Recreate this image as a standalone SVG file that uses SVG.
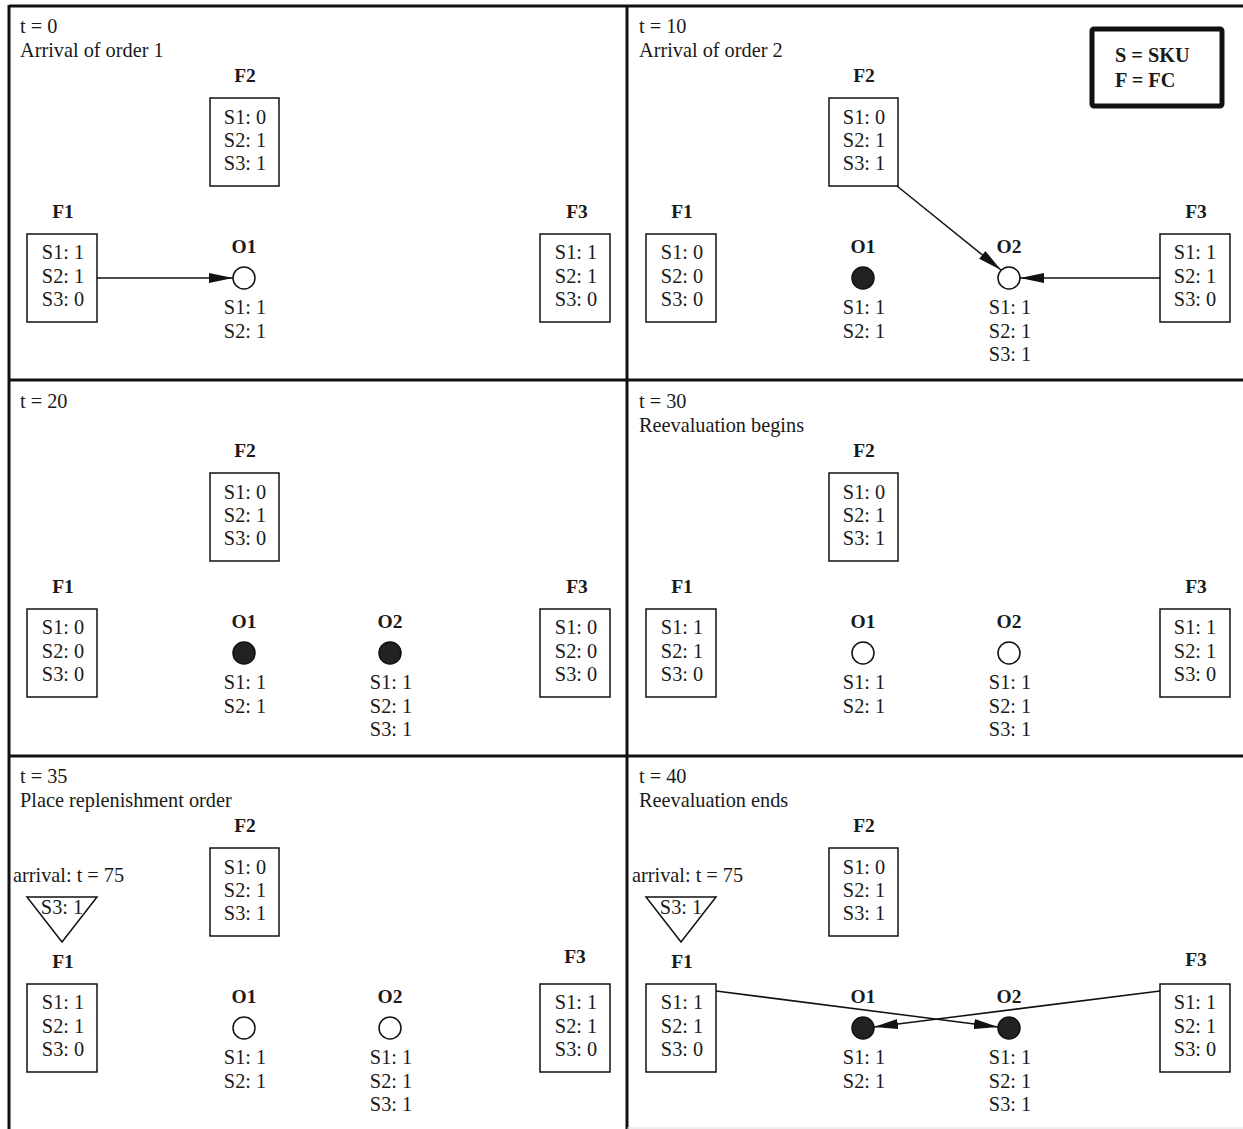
<svg xmlns="http://www.w3.org/2000/svg" width="1243" height="1129" viewBox="0 0 1243 1129">
<style>
text{font-family:"Liberation Serif","Times New Roman",serif;font-size:20.3px;fill:#1a1a1a}
.b{font-weight:bold;text-anchor:middle;font-size:19.5px}
.c{text-anchor:middle}
.box{fill:#fff;stroke:#111;stroke-width:1.5}
.open{fill:#fff;stroke:#111;stroke-width:1.5}
.full{fill:#222;stroke:#111;stroke-width:1.5}
.edge{stroke:#111;stroke-width:1.5;fill:none;marker-end:url(#ah)}
.frame{stroke:#111;stroke-width:3;fill:none}
</style>
<defs>
<marker id="ah" viewBox="0 0 24 10" refX="24" refY="5" markerWidth="24" markerHeight="10" markerUnits="userSpaceOnUse" orient="auto">
<path d="M0,0 L24,5 L0,10 Z" fill="#111"/>
</marker>
</defs>
<rect width="1243" height="1129" fill="#fff"/>
<g id="frame">
<line class="frame" x1="9" y1="6" x2="1243" y2="6"/>
<line class="frame" x1="9" y1="5" x2="9" y2="1129"/>
<line class="frame" x1="627" y1="5" x2="627" y2="1129"/>
<line class="frame" x1="9" y1="380" x2="1243" y2="380"/>
<line class="frame" x1="9" y1="756" x2="1243" y2="756"/>
<line x1="627" y1="1128" x2="1243" y2="1128" stroke="#ddd" stroke-width="1"/>
</g>
<g id="legend">
<rect x="1092" y="29" width="130" height="77" fill="#fff" stroke="#111" stroke-width="5" rx="2"/>
<text x="1115" y="62" font-weight="bold" font-size="21.5">S = SKU</text>
<text x="1115" y="87" font-weight="bold" font-size="21.5">F = FC</text>
</g>
<g id="connectors">
<line class="edge" x1="97" y1="278" x2="233" y2="278"/>
<line class="edge" x1="897" y1="186" x2="1001" y2="270"/>
<line class="edge" x1="1160" y1="278" x2="1020" y2="278"/>
<line class="edge" x1="716" y1="991" x2="998" y2="1027"/>
<line class="edge" x1="1160" y1="991" x2="874" y2="1027"/>
</g>
<!-- Panel t=0 -->
<g id="p0">
<text x="20" y="33">t = 0</text>
<text x="20" y="57">Arrival of order 1</text>
<g id="p0-F2"><text class="b" x="245" y="82">F2</text><rect class="box" x="210" y="98" width="69" height="88"/><text class="c" x="245" y="124">S1: 0</text><text class="c" x="245" y="147">S2: 1</text><text class="c" x="245" y="170">S3: 1</text></g>
<g id="p0-F1"><text class="b" x="63" y="218">F1</text><rect class="box" x="27" y="234" width="70" height="88"/><text class="c" x="63" y="259">S1: 1</text><text class="c" x="63" y="283">S2: 1</text><text class="c" x="63" y="306">S3: 0</text></g>
<g id="p0-F3"><text class="b" x="577" y="218">F3</text><rect class="box" x="540" y="234" width="70" height="88"/><text class="c" x="576" y="259">S1: 1</text><text class="c" x="576" y="283">S2: 1</text><text class="c" x="576" y="306">S3: 0</text></g>
<g id="p0-O1"><text class="b" x="244" y="253">O1</text><circle class="open" cx="244" cy="278" r="11"/><text class="c" x="245" y="314">S1: 1</text><text class="c" x="245" y="338">S2: 1</text></g>
</g>
<!-- Panel t=10 -->
<g id="p1" transform="translate(619,0)">
<text x="20" y="33">t = 10</text>
<text x="20" y="57">Arrival of order 2</text>
<g id="p1-F2"><text class="b" x="245" y="82">F2</text><rect class="box" x="210" y="98" width="69" height="88"/><text class="c" x="245" y="124">S1: 0</text><text class="c" x="245" y="147">S2: 1</text><text class="c" x="245" y="170">S3: 1</text></g>
<g id="p1-F1"><text class="b" x="63" y="218">F1</text><rect class="box" x="27" y="234" width="70" height="88"/><text class="c" x="63" y="259">S1: 0</text><text class="c" x="63" y="283">S2: 0</text><text class="c" x="63" y="306">S3: 0</text></g>
<g id="p1-F3"><text class="b" x="577" y="218">F3</text><rect class="box" x="541" y="234" width="70" height="88"/><text class="c" x="576" y="259">S1: 1</text><text class="c" x="576" y="283">S2: 1</text><text class="c" x="576" y="306">S3: 0</text></g>
<g id="p1-O1"><text class="b" x="244" y="253">O1</text><circle class="full" cx="244" cy="278" r="11"/><text class="c" x="245" y="314">S1: 1</text><text class="c" x="245" y="338">S2: 1</text></g>
<g id="p1-O2"><text class="b" x="390" y="253">O2</text><circle class="open" cx="390" cy="278" r="11"/><text class="c" x="391" y="314">S1: 1</text><text class="c" x="391" y="338">S2: 1</text><text class="c" x="391" y="361">S3: 1</text></g>
</g>
<!-- Panel t=20 -->
<g id="p2" transform="translate(0,375)">
<text x="20" y="33">t = 20</text>
<g id="p2-F2"><text class="b" x="245" y="82">F2</text><rect class="box" x="210" y="98" width="69" height="88"/><text class="c" x="245" y="124">S1: 0</text><text class="c" x="245" y="147">S2: 1</text><text class="c" x="245" y="170">S3: 0</text></g>
<g id="p2-F1"><text class="b" x="63" y="218">F1</text><rect class="box" x="27" y="234" width="70" height="88"/><text class="c" x="63" y="259">S1: 0</text><text class="c" x="63" y="283">S2: 0</text><text class="c" x="63" y="306">S3: 0</text></g>
<g id="p2-F3"><text class="b" x="577" y="218">F3</text><rect class="box" x="540" y="234" width="70" height="88"/><text class="c" x="576" y="259">S1: 0</text><text class="c" x="576" y="283">S2: 0</text><text class="c" x="576" y="306">S3: 0</text></g>
<g id="p2-O1"><text class="b" x="244" y="253">O1</text><circle class="full" cx="244" cy="278" r="11"/><text class="c" x="245" y="314">S1: 1</text><text class="c" x="245" y="338">S2: 1</text></g>
<g id="p2-O2"><text class="b" x="390" y="253">O2</text><circle class="full" cx="390" cy="278" r="11"/><text class="c" x="391" y="314">S1: 1</text><text class="c" x="391" y="338">S2: 1</text><text class="c" x="391" y="361">S3: 1</text></g>
</g>
<!-- Panel t=30 -->
<g id="p3" transform="translate(619,375)">
<text x="20" y="33">t = 30</text>
<text x="20" y="57">Reevaluation begins</text>
<g id="p3-F2"><text class="b" x="245" y="82">F2</text><rect class="box" x="210" y="98" width="69" height="88"/><text class="c" x="245" y="124">S1: 0</text><text class="c" x="245" y="147">S2: 1</text><text class="c" x="245" y="170">S3: 1</text></g>
<g id="p3-F1"><text class="b" x="63" y="218">F1</text><rect class="box" x="27" y="234" width="70" height="88"/><text class="c" x="63" y="259">S1: 1</text><text class="c" x="63" y="283">S2: 1</text><text class="c" x="63" y="306">S3: 0</text></g>
<g id="p3-F3"><text class="b" x="577" y="218">F3</text><rect class="box" x="541" y="234" width="70" height="88"/><text class="c" x="576" y="259">S1: 1</text><text class="c" x="576" y="283">S2: 1</text><text class="c" x="576" y="306">S3: 0</text></g>
<g id="p3-O1"><text class="b" x="244" y="253">O1</text><circle class="open" cx="244" cy="278" r="11"/><text class="c" x="245" y="314">S1: 1</text><text class="c" x="245" y="338">S2: 1</text></g>
<g id="p3-O2"><text class="b" x="390" y="253">O2</text><circle class="open" cx="390" cy="278" r="11"/><text class="c" x="391" y="314">S1: 1</text><text class="c" x="391" y="338">S2: 1</text><text class="c" x="391" y="361">S3: 1</text></g>
</g>
<!-- Panel t=35 -->
<g id="p4" transform="translate(0,750)">
<text x="20" y="33">t = 35</text>
<text x="20" y="57">Place replenishment order</text>
<g id="p4-repl"><text x="13" y="132">arrival: t = 75</text><polygon points="27,147 97,147 62,192" fill="#fff" stroke="#111" stroke-width="1.5"/><text class="c" x="62" y="164">S3: 1</text></g>
<g id="p4-F2"><text class="b" x="245" y="82">F2</text><rect class="box" x="210" y="98" width="69" height="88"/><text class="c" x="245" y="124">S1: 0</text><text class="c" x="245" y="147">S2: 1</text><text class="c" x="245" y="170">S3: 1</text></g>
<g id="p4-F1"><text class="b" x="63" y="218">F1</text><rect class="box" x="27" y="234" width="70" height="88"/><text class="c" x="63" y="259">S1: 1</text><text class="c" x="63" y="283">S2: 1</text><text class="c" x="63" y="306">S3: 0</text></g>
<g id="p4-F3"><text class="b" x="575" y="213">F3</text><rect class="box" x="540" y="234" width="70" height="88"/><text class="c" x="576" y="259">S1: 1</text><text class="c" x="576" y="283">S2: 1</text><text class="c" x="576" y="306">S3: 0</text></g>
<g id="p4-O1"><text class="b" x="244" y="253">O1</text><circle class="open" cx="244" cy="278" r="11"/><text class="c" x="245" y="314">S1: 1</text><text class="c" x="245" y="338">S2: 1</text></g>
<g id="p4-O2"><text class="b" x="390" y="253">O2</text><circle class="open" cx="390" cy="278" r="11"/><text class="c" x="391" y="314">S1: 1</text><text class="c" x="391" y="338">S2: 1</text><text class="c" x="391" y="361">S3: 1</text></g>
</g>
<!-- Panel t=40 -->
<g id="p5" transform="translate(619,750)">
<text x="20" y="33">t = 40</text>
<text x="20" y="57">Reevaluation ends</text>
<g id="p5-repl"><text x="13" y="132">arrival: t = 75</text><polygon points="27,147 97,147 62,192" fill="#fff" stroke="#111" stroke-width="1.5"/><text class="c" x="62" y="164">S3: 1</text></g>
<g id="p5-F2"><text class="b" x="245" y="82">F2</text><rect class="box" x="210" y="98" width="69" height="88"/><text class="c" x="245" y="124">S1: 0</text><text class="c" x="245" y="147">S2: 1</text><text class="c" x="245" y="170">S3: 1</text></g>
<g id="p5-F1"><text class="b" x="63" y="218">F1</text><rect class="box" x="27" y="234" width="70" height="88"/><text class="c" x="63" y="259">S1: 1</text><text class="c" x="63" y="283">S2: 1</text><text class="c" x="63" y="306">S3: 0</text></g>
<g id="p5-F3"><text class="b" x="577" y="216">F3</text><rect class="box" x="541" y="234" width="70" height="88"/><text class="c" x="576" y="259">S1: 1</text><text class="c" x="576" y="283">S2: 1</text><text class="c" x="576" y="306">S3: 0</text></g>
<g id="p5-O1"><text class="b" x="244" y="253">O1</text><circle class="full" cx="244" cy="278" r="11"/><text class="c" x="245" y="314">S1: 1</text><text class="c" x="245" y="338">S2: 1</text></g>
<g id="p5-O2"><text class="b" x="390" y="253">O2</text><circle class="full" cx="390" cy="278" r="11"/><text class="c" x="391" y="314">S1: 1</text><text class="c" x="391" y="338">S2: 1</text><text class="c" x="391" y="361">S3: 1</text></g>
</g>
</svg>
